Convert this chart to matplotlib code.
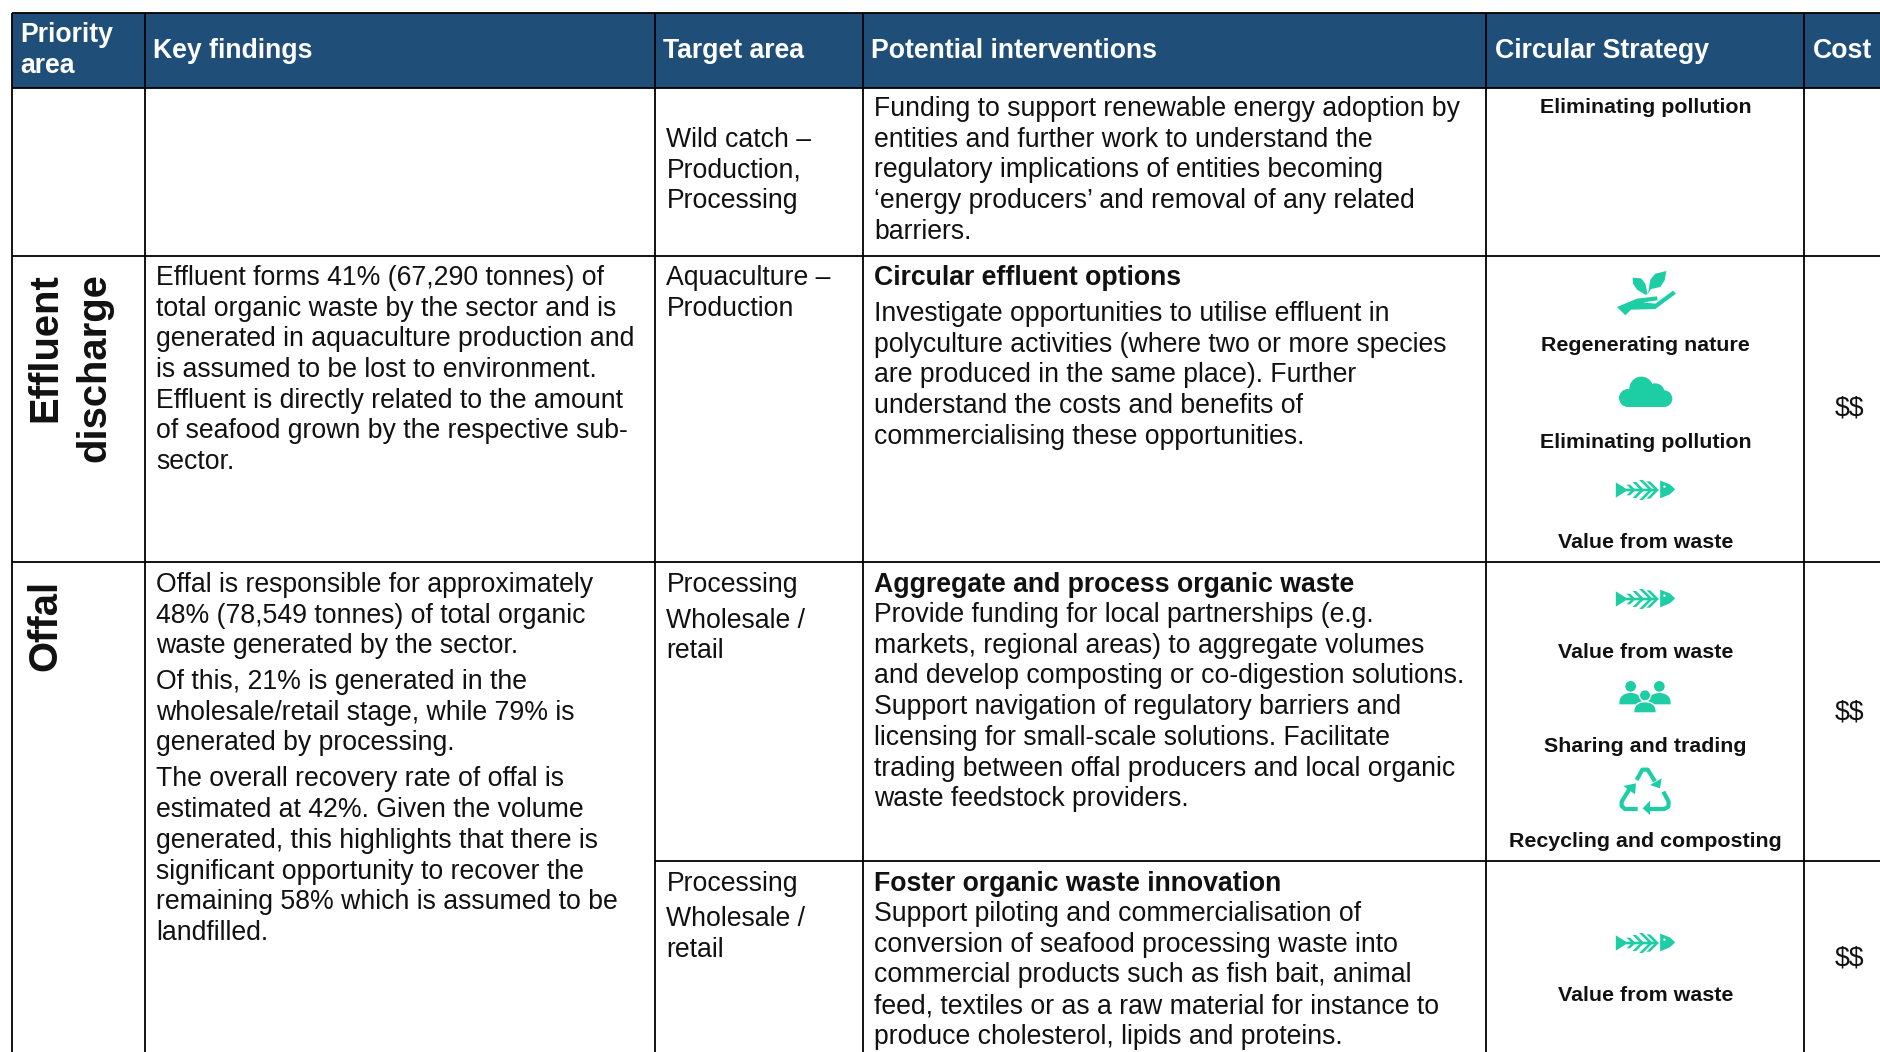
#!/usr/bin/env python3
"""Priority area table: findings, interventions, circular strategies and cost."""

import numpy as np
import matplotlib
matplotlib.use('Agg')
import matplotlib.pyplot as plt
from matplotlib.patches import Circle, Polygon, Rectangle

plt.rcParams['font.family'] = ['Liberation Sans', 'DejaVu Sans']

HEADER_BLUE = '#1F4E79'
TEAL = '#1DCEA4'
TEXT = '#111111'

# table content
headers = ['Key findings', 'Target area', 'Potential interventions', 'Circular Strategy', 'Cost']
header_first = ['Priority', 'area']

priority_areas = [['Effluent', 'discharge'], ['Offal']]

findings_effluent = [
    'Effluent forms 41% (67,290 tonnes) of',
    'total organic waste by the sector and is',
    'generated in aquaculture production and',
    'is assumed to be lost to environment.',
    'Effluent is directly related to the amount',
    'of seafood grown by the respective sub-',
    'sector.',
]
findings_offal_1 = [
    'Offal is responsible for approximately',
    '48% (78,549 tonnes) of total organic',
    'waste generated by the sector.',
]
findings_offal_2 = [
    'Of this, 21% is generated in the',
    'wholesale/retail stage, while 79% is',
    'generated by processing.',
]
findings_offal_3 = [
    'The overall recovery rate of offal is',
    'estimated at 42%. Given the volume',
    'generated, this highlights that there is',
    'significant opportunity to recover the',
    'remaining 58% which is assumed to be',
    'landfilled.',
]

target_wild = ['Wild catch –', 'Production,', 'Processing']
target_aqua = ['Aquaculture –', 'Production']
target_processing = ['Processing']
target_wholesale = ['Wholesale /', 'retail']

funding_lines = [
    'Funding to support renewable energy adoption by',
    'entities and further work to understand the',
    'regulatory implications of entities becoming',
    '‘energy producers’ and removal of any related',
    'barriers.',
]
effluent_title = 'Circular effluent options'
effluent_lines = [
    'Investigate opportunities to utilise effluent in',
    'polyculture activities (where two or more species',
    'are produced in the same place). Further',
    'understand the costs and benefits of',
    'commercialising these opportunities.',
]
aggregate_title = 'Aggregate and process organic waste'
aggregate_lines = [
    'Provide funding for local partnerships (e.g.',
    'markets, regional areas) to aggregate volumes',
    'and develop composting or co-digestion solutions.',
    'Support navigation of regulatory barriers and',
    'licensing for small-scale solutions. Facilitate',
    'trading between offal producers and local organic',
    'waste feedstock providers.',
]
foster_title = 'Foster organic waste innovation'
foster_lines = [
    'Support piloting and commercialisation of',
    'conversion of seafood processing waste into',
    'commercial products such as fish bait, animal',
    'feed, textiles or as a raw material for instance to',
    'produce cholesterol, lipids and proteins.',
]

# strategy label, baseline of label
strategy_labels = [
    ('Eliminating pollution', 113),
    ('Regenerating nature', 351),
    ('Eliminating pollution', 448),
    ('Value from waste', 548),
    ('Value from waste', 658),
    ('Sharing and trading', 752),
    ('Recycling and composting', 847),
    ('Value from waste', 1001),
]
cost_labels = [('$$', 416), ('$$', 720), ('$$', 966)]

# grid, in reference pixels
col_edges = [12, 145, 655, 863, 1486, 1804]
header_top, header_bottom = 13, 88
row_edges = [256, 562]
last_row_edge = 861
W, H = 1881, 1052
LINE = 30.7
BODY = 19.2


def block(ax, x, y, lines, spacing=LINE, **kw):
    kw.setdefault('fontsize', BODY)
    kw.setdefault('color', TEXT)
    for i, line in enumerate(lines):
        ax.text(x, y + i * spacing, line, ha='left', va='baseline', **kw)


def pts(cx, cy, ox, oy, coords):
    # icon outlines were measured on a 3x crop
    return [(cx + (a - ox) / 3, cy + (b - oy) / 3) for a, b in coords]


def hand_icon(ax, cx, cy):
    o = (497, 128)
    for shape in (
        [(410, 170), (470, 145), (530, 138), (532, 150), (488, 156), (525, 160), (578, 121),
         (587, 130), (525, 176), (452, 178), (435, 195)],
        [(457, 82), (482, 84), (495, 100), (502, 132), (495, 133), (470, 118), (458, 100)],
        [(558, 62), (525, 70), (510, 88), (503, 130), (512, 116), (540, 110), (553, 90)],
    ):
        ax.add_patch(Polygon(pts(cx, cy, *o, shape), closed=True, fc=TEAL, ec='none'))


def cloud_icon(ax, cx, cy):
    (bx, by) = pts(cx, cy, 497, 425, [(417, 425)])[0]
    ax.add_patch(Rectangle((bx + 8, by), 37, 15, fc=TEAL, ec='none'))
    for a, b, r in [(483, 415, 36), (525, 427, 28), (443, 443, 27), (551, 445, 25)]:
        (x, y) = pts(cx, cy, 497, 425, [(a, b)])[0]
        ax.add_patch(Circle((x, y), r / 3, fc=TEAL, ec='none'))


def fish_icon(ax, cx, cy):
    o = (497, 720)
    ax.add_patch(Polygon(pts(cx, cy, *o, [(408, 697), (438, 716), (530, 716), (530, 724), (438, 724), (408, 743)]),
                         closed=True, fc=TEAL, ec='none'))
    ax.add_patch(Polygon(pts(cx, cy, *o, [(541, 692), (570, 703), (586, 718), (570, 733), (541, 745)]),
                         closed=True, fc=TEAL, ec='none'))
    for x0, half in [(440, 16), (458, 24), (478, 30), (500, 26)]:
        for sgn in (-1, 1):
            stroke = [(x0, 720 + sgn * half), (x0 + 11, 720 + sgn * half),
                      (x0 + 11 + half, 720), (x0 + half, 720)]
            ax.add_patch(Polygon(pts(cx, cy, *o, stroke), closed=True, fc=TEAL, ec='none'))
    (ex, ey) = pts(cx, cy, *o, [(554, 710)])[0]
    ax.add_patch(Circle((ex, ey), 1.2, fc='white', ec='none'))


def person(ax, cx, cy, a, b, r, w, top, bottom, outline=False):
    # rounded shoulders on a flat base
    t = np.linspace(0, np.pi, 30)
    shape = [(a + w / 2 * np.cos(v), bottom - (bottom - top) * np.sin(v) ** 0.7) for v in t]
    ec = 'white' if outline else 'none'
    lw = 1.0 if outline else 0
    ax.add_patch(Polygon(pts(cx, cy, 495, 410, shape), closed=True, fc=TEAL, ec=ec, lw=lw))
    (hx, hy) = pts(cx, cy, 495, 410, [(a, b)])[0]
    ax.add_patch(Circle((hx, hy), r / 3, fc=TEAL, ec=ec, lw=lw))


def people_icon(ax, cx, cy):
    person(ax, cx, cy, 452, 378, 16, 68, 398, 432)
    person(ax, cx, cy, 538, 378, 16, 68, 398, 432)
    person(ax, cx, cy, 495, 405, 17, 68, 424, 458, outline=True)


def recycle_icon(ax, cx, cy):
    o = (495, 690)
    arms = [
        ([(470, 660), (487, 629), (503, 629), (525, 664)], [(545, 655), (540, 685), (510, 675)]),
        ([(550, 695), (566, 725), (565, 740), (553, 747), (510, 747)], [(510, 722), (488, 745), (510, 765)]),
        ([(473, 747), (435, 747), (425, 738), (425, 725), (448, 688)], [(430, 678), (468, 670), (465, 703)]),
    ]
    for line, head in arms:
        p = pts(cx, cy, *o, line)
        ax.plot([q[0] for q in p], [q[1] for q in p], color=TEAL, lw=3.0,
                solid_capstyle='butt', solid_joinstyle='round')
        ax.add_patch(Polygon(pts(cx, cy, *o, head), closed=True, fc=TEAL, ec='none'))


def main():
    fig = plt.figure(figsize=(W / 100, H / 100), dpi=100, facecolor='white')
    ax = fig.add_axes([0, 0, 1, 1])
    ax.set_xlim(0, W)
    ax.set_ylim(H, 0)
    ax.axis('off')

    # header band
    ax.add_patch(Rectangle((col_edges[0], header_top), W - col_edges[0], header_bottom - header_top,
                           fc=HEADER_BLUE, ec='none', zorder=0))
    head_kw = dict(color='white', fontsize=19.2, fontweight='bold')
    block(ax, 20, 42, header_first, spacing=31, **head_kw)
    for x, label in zip([153, 663, 871, 1495, 1813], headers):
        ax.text(x, 58, label, ha='left', va='baseline', **head_kw)

    # rotated priority labels
    rot_kw = dict(rotation=90, ha='center', va='top', fontsize=28.8, fontweight='bold', color=TEXT)
    ax.text(45, 273, priority_areas[0][0], **rot_kw)
    ax.text(94, 273, priority_areas[0][1], **rot_kw)
    ax.text(45, 580, priority_areas[1][0], **rot_kw)

    # key findings
    block(ax, 156, 285, findings_effluent)
    block(ax, 156, 592, findings_offal_1)
    block(ax, 156, 689, findings_offal_2)
    block(ax, 156, 786.5, findings_offal_3)

    # target areas
    block(ax, 666.5, 147, target_wild)
    block(ax, 666.5, 285, target_aqua)
    block(ax, 666.5, 592, target_processing)
    block(ax, 666.5, 627.5, target_wholesale)
    block(ax, 666.5, 891, target_processing)
    block(ax, 666.5, 926.5, target_wholesale)

    # interventions
    x_int = 874.5
    title_kw = dict(fontsize=BODY, fontweight='bold', color=TEXT, va='baseline')
    block(ax, x_int, 116, funding_lines)
    ax.text(x_int, 285, effluent_title, **title_kw)
    block(ax, x_int, 321, effluent_lines)
    ax.text(x_int, 592, aggregate_title, **title_kw)
    block(ax, x_int, 622, aggregate_lines)
    ax.text(x_int, 891, foster_title, **title_kw)
    block(ax, x_int, 921, foster_lines)

    # circular strategies
    for label, y in strategy_labels:
        ax.text(1645.5, y, label, ha='center', va='baseline', fontsize=15.4, fontweight='bold', color=TEXT)
    hand_icon(ax, 1646, 293)
    cloud_icon(ax, 1646, 392)
    fish_icon(ax, 1645.5, 490)
    fish_icon(ax, 1645.5, 599)
    people_icon(ax, 1645, 697)
    recycle_icon(ax, 1645, 790)
    fish_icon(ax, 1645.5, 943)

    # cost ($$ would otherwise go to the mathtext parser)
    for label, y in cost_labels:
        ax.text(1849, y, label, ha='center', va='baseline', fontsize=BODY, color=TEXT, parse_math=False)

    # grid lines
    line_kw = dict(color='black', lw=1.3, solid_capstyle='butt', zorder=5)
    for x in col_edges:
        ax.plot([x, x], [header_top, H], **line_kw)
    for y in [header_top, header_bottom] + row_edges:
        ax.plot([col_edges[0], W], [y, y], **line_kw)
    # priority and key findings cells span the last two rows
    ax.plot([col_edges[2], W], [last_row_edge, last_row_edge], **line_kw)

    fig.savefig('out.png', dpi=100, facecolor='white')


if __name__ == "__main__":
    main()
